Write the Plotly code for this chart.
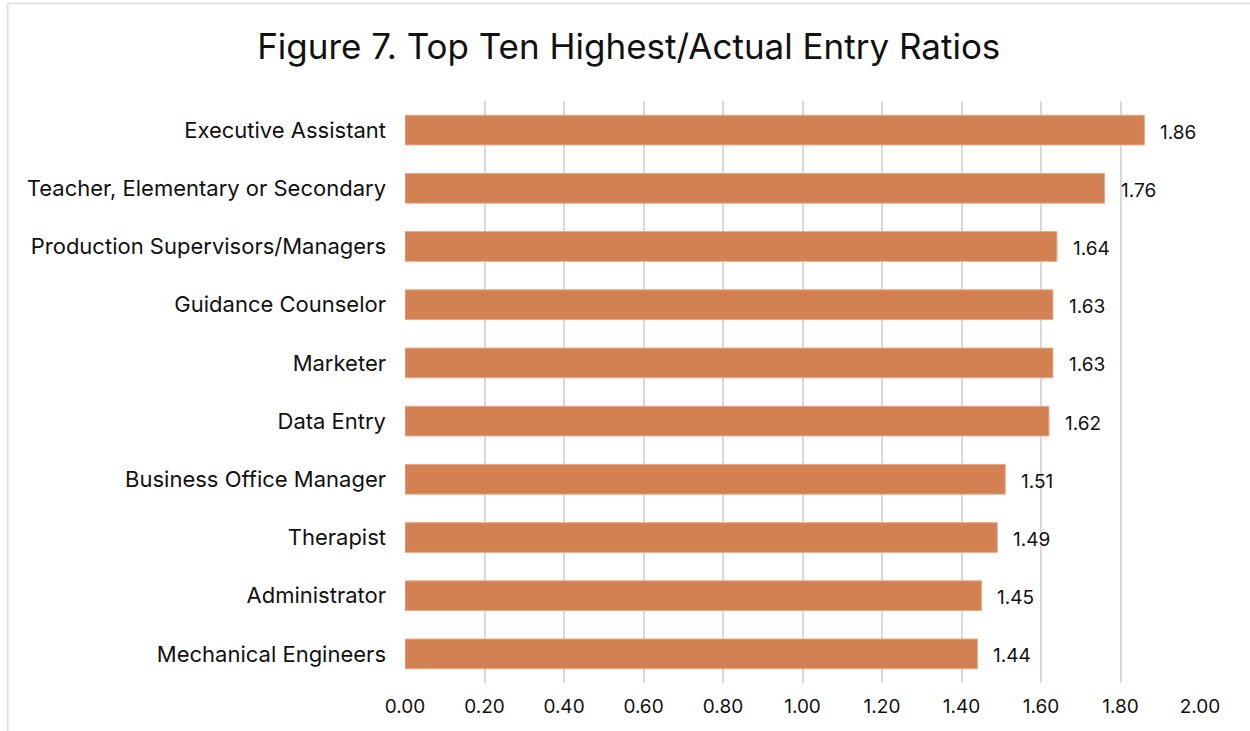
import plotly.graph_objects as go

categories = [
    "Executive Assistant",
    "Teacher, Elementary or Secondary",
    "Production Supervisors/Managers",
    "Guidance Counselor",
    "Marketer",
    "Data Entry",
    "Business Office Manager",
    "Therapist",
    "Administrator",
    "Mechanical Engineers",
]
ratios = [1.86, 1.76, 1.64, 1.63, 1.63, 1.62, 1.51, 1.49, 1.45, 1.44]
tick_vals = [0.0, 0.2, 0.4, 0.6, 0.8, 1.0, 1.2, 1.4, 1.6, 1.8, 2.0]
tick_text = [f"{v:.2f}" for v in tick_vals]
title_text = "Figure 7. Top Ten Highest/Actual Entry Ratios"

FONT = "Inter, Roboto, Arial, sans-serif"

fig = go.Figure()
fig.add_trace(go.Bar(
    y=categories,
    x=ratios,
    orientation="h",
    width=0.51,
    marker=dict(color="#D38053", line=dict(color="#E8A886", width=1)),
    hoverinfo="skip",
))

for c, v in zip(categories, ratios):
    fig.add_annotation(
        x=v, y=c, xref="x", yref="y",
        text=f"{v:.2f}", showarrow=False,
        xanchor="left", xshift=14, yshift=-2,
        font=dict(family=FONT, size=19, color="#111111"),
    )

W, H = 1250, 731
L, R, T, B = 405, 50, 101, 48
pw, ph = W - L - R, H - T - B

def px_x(p):
    return (p - L) / pw

def px_y(p):
    return (H - B - p) / ph

fig.add_shape(type="line", xref="paper", yref="paper",
              x0=px_x(7.5), x1=px_x(1260), y0=px_y(3.5), y1=px_y(3.5),
              line=dict(color="#E3E3E3", width=2))
fig.add_shape(type="line", xref="paper", yref="paper",
              x0=px_x(7.5), x1=px_x(7.5), y0=px_y(3.5), y1=px_y(740),
              line=dict(color="#E3E3E3", width=2))

fig.update_layout(
    width=W, height=H,
    margin=dict(l=L, r=R, t=T, b=B),
    paper_bgcolor="white",
    plot_bgcolor="white",
    showlegend=False,
    title=dict(text=title_text, x=0.503, xanchor="center", y=1 - 47 / H, yanchor="middle",
               font=dict(family=FONT, size=35, color="#111111")),
    xaxis=dict(
        range=[0, 2.0],
        tickvals=tick_vals, ticktext=tick_text,
        showgrid=True, gridcolor="#D9D9D9", gridwidth=2,
        zeroline=False, showline=False,
        tickfont=dict(family=FONT, size=19, color="#111111"),
        ticks="", ticklabelstandoff=10,
        fixedrange=True,
    ),
    yaxis=dict(
        categoryorder="array", categoryarray=categories,
        autorange="reversed",
        showgrid=False, zeroline=False, showline=False,
        tickfont=dict(family=FONT, size=22, color="#111111"),
        ticks="", ticklabelstandoff=18,
        fixedrange=True,
    ),
    bargap=0.49,
)

fig.write_html("out.html")
